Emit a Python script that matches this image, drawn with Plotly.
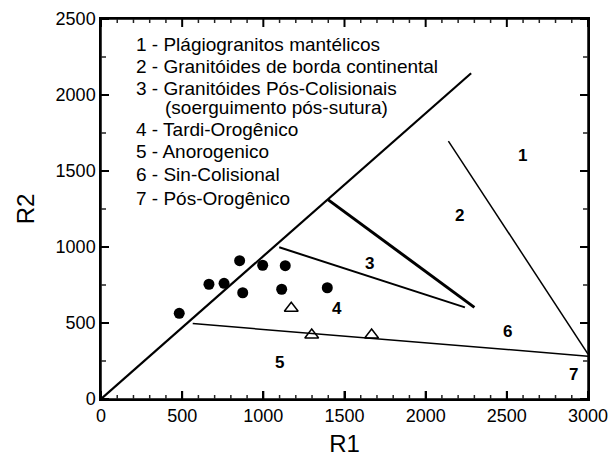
import plotly.graph_objects as go

# ---- data ----
# boundary lines of the R1-R2 diagram (R1, R2)
line_a_x = [0, 2280]; line_a_y = [0, 2143]          # main diagonal
line_b_x = [1400, 2300]; line_b_y = [1310, 603]     # thick line (2/3 boundary)
line_c_x = [1098, 2242]; line_c_y = [998, 603]      # 3/4 boundary
line_d_x = [565, 3000]; line_d_y = [496, 282]       # 4/5 - 6/7 boundary
line_e_x = [2140, 3000]; line_e_y = [1697, 296]     # 1/2 boundary

dots_r1 = [482, 665, 758, 854, 873, 996, 1135, 1113, 1394]
dots_r2 = [564, 755, 761, 910, 699, 880, 877, 722, 732]

tri_r1 = [1172, 1298, 1667]
tri_r2 = [597, 421, 421]

field_labels = ["1", "2", "3", "4", "5", "6", "7"]
field_x = [2597, 2207, 1653, 1452, 1097, 2503, 2910]
field_y = [1599, 1206, 893, 597, 241, 443, 158]

legend_lines = [
    "1 - Plágiogranitos mantélicos",
    "2 - Granitóides de borda continental",
    "3 - Granitóides Pós-Colisionais",
    "(soerguimento pós-sutura)",
    "4 - Tardi-Orogênico",
    "5 - Anorogenico",
    "6 - Sin-Colisional",
    "7 - Pós-Orogênico",
]
legend_x = [209, 209, 209, 388, 209, 209, 209, 209]
legend_y = [2329, 2186, 2040, 1918, 1770, 1627, 1480, 1322]

x_ticks = [0, 500, 1000, 1500, 2000, 2500, 3000]
y_ticks = [0, 500, 1000, 1500, 2000, 2500]
x_minor = [v for v in range(0, 3001, 100) if v % 500]
y_minor = [v for v in range(0, 2501, 250) if v % 500]
x_range = [x_ticks[0], x_ticks[-1]]
y_range = [y_ticks[0], y_ticks[-1]]

W, H = 608, 466
ML, MR, MT, MB = 101, 20, 19, 67
PW, PH = W - ML - MR, H - MT - MB

# ---- figure ----
fig = go.Figure()

def add_line(xs, ys, w):
    fig.add_trace(go.Scatter(x=xs, y=ys, mode="lines", cliponaxis=False,
                             line=dict(color="black", width=w),
                             showlegend=False, hoverinfo="skip"))

add_line(line_a_x, line_a_y, 2.2)
add_line(line_b_x, line_b_y, 3)
add_line(line_c_x, line_c_y, 2)
add_line(line_d_x, line_d_y, 1.5)
add_line(line_e_x, line_e_y, 1.5)

fig.add_trace(go.Scatter(x=dots_r1, y=dots_r2, mode="markers",
                         marker=dict(symbol="circle", size=11, color="black"),
                         showlegend=False))
fig.add_trace(go.Scatter(x=tri_r1, y=tri_r2, mode="markers",
                         marker=dict(symbol="triangle-up-open", size=12,
                                     color="black", line=dict(width=1.5)),
                         showlegend=False))

for t, x, y in zip(field_labels, field_x, field_y):
    fig.add_annotation(x=x, y=y, text="<b>" + t + "</b>", showarrow=False,
                       font=dict(size=17, color="black", family="Liberation Sans"))

for t, x, y in zip(legend_lines, legend_x, legend_y):
    fig.add_annotation(x=x, y=y, text=t, showarrow=False, xanchor="left",
                       yanchor="middle", borderpad=0,
                       font=dict(size=19, color="black", family="Liberation Sans"))

# frame in paper coordinates (not clipped)
fig.add_shape(type="rect", xref="paper", yref="paper", x0=0, x1=1, y0=0, y1=1,
              line=dict(color="black", width=1.5), layer="above")

# tick marks on all four sides (inside)
def xtick(v, length, width, color):
    f = length / PH
    for y0, y1 in ((0, f), (1, 1 - f)):
        fig.add_shape(type="line", xref="x", yref="paper", x0=v, x1=v,
                      y0=y0, y1=y1, line=dict(color=color, width=width),
                      layer="above")

def ytick(v, length, width, color):
    f = length / PW
    for x0, x1 in ((0, f), (1, 1 - f)):
        fig.add_shape(type="line", xref="paper", yref="y", x0=x0, x1=x1,
                      y0=v, y1=v, line=dict(color=color, width=width),
                      layer="above")

for v in x_ticks:
    xtick(v, 8, 2, "black")
for v in x_minor:
    xtick(v, 4, 1.5, "#222")
for v in y_ticks:
    ytick(v, 8, 2, "black")
for v in y_minor:
    ytick(v, 5, 1.5, "#222")

axis_common = dict(
    showgrid=False, zeroline=False, showline=True, linecolor="black",
    linewidth=1.5, mirror=True, ticks="inside", ticklen=8, tickwidth=2,
    tickcolor="black", automargin=False, ticklabeloverflow="allow",
    tickfont=dict(size=18, color="black", family="Liberation Sans"),
)

fig.update_layout(
    xaxis=dict(range=x_range, tickvals=x_ticks,
               title=dict(text="R1", font=dict(size=24, color="black",
                                               family="Liberation Sans"),
                          standoff=10),
               **axis_common),
    yaxis=dict(range=y_range, tickvals=y_ticks,
               title=dict(text="R2", font=dict(size=24, color="black",
                                               family="Liberation Sans"),
                          standoff=14),
               **axis_common),
    width=W, height=H,
    margin=dict(l=ML, r=MR, t=MT, b=MB),
    paper_bgcolor="white", plot_bgcolor="white",
    showlegend=False,
)

fig.write_html("out.html", config={"displayModeBar": False},
               post_script="document.body.style.margin='0';document.body.style.padding='0';")
